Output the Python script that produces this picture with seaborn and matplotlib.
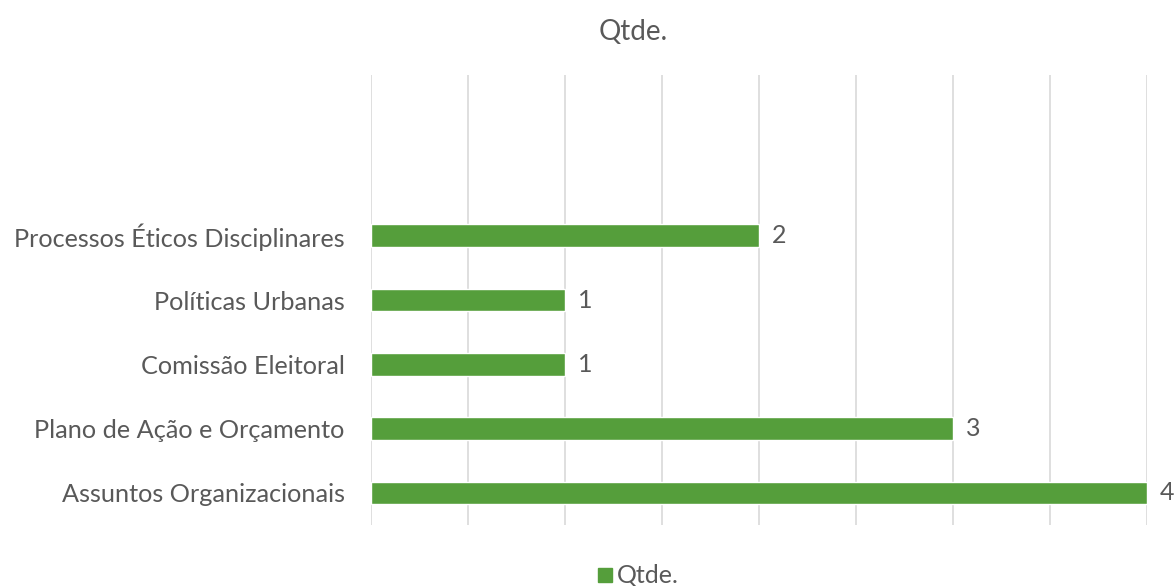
import matplotlib
matplotlib.use("Agg")
from matplotlib import pyplot as plt
import seaborn as sns
import pandas as pd

sns.set_style("white")
plt.rcParams['font.family'] = ['Lato', 'DejaVu Sans']

categorias = ["Processos Éticos Disciplinares", "Políticas Urbanas", "Comissão Eleitoral",
              "Plano de Ação e Orçamento", "Assuntos Organizacionais"]
qtde = [2, 1, 1, 3, 4]

df = pd.DataFrame({"Categoria": categorias, "Qtde.": qtde})

verde = "#559E3B"
cinza = "#595959"

fig = plt.figure(figsize=(11.75, 5.86), dpi=100)
ax = fig.add_axes([0.3157, 0.104, 0.6605, 0.768])
sns.barplot(data=df, x="Qtde.", y="Categoria", order=categorias, color=verde,
            width=0.35, saturation=1, ax=ax, label="Qtde.", legend=False)

ax.set_xlim(0, 4)
ax.set_ylim(4.5, -2.5)
ax.set_xticks([0, 0.5, 1, 1.5, 2, 2.5, 3, 3.5, 4])
ax.set_xticklabels([])
ax.grid(axis="x", color="#D9D9D9", linewidth=1.2)
ax.set_axisbelow(True)
for s in ax.spines.values():
    s.set_visible(False)
ax.tick_params(axis="both", length=0)
ax.tick_params(axis="y", labelsize=18.2, labelcolor=cinza, pad=19)
ax.set_xlabel("")
ax.set_ylabel("")

for i, v in enumerate(qtde):
    ax.text(v + 0.065, i, str(v), va="center", ha="left", fontsize=18, color=cinza)

fig.text(0.5385, 0.945, "Qtde.", ha="center", va="center", fontsize=20, color=cinza)

# legend
fig.patches.append(plt.Rectangle((0.509, 0.0075), 0.0118, 0.024, transform=fig.transFigure,
                                 color=verde))
fig.text(0.525, 0.019, "Qtde.", ha="left", va="center", fontsize=18, color=cinza)

fig.savefig("out.png", dpi=100)
